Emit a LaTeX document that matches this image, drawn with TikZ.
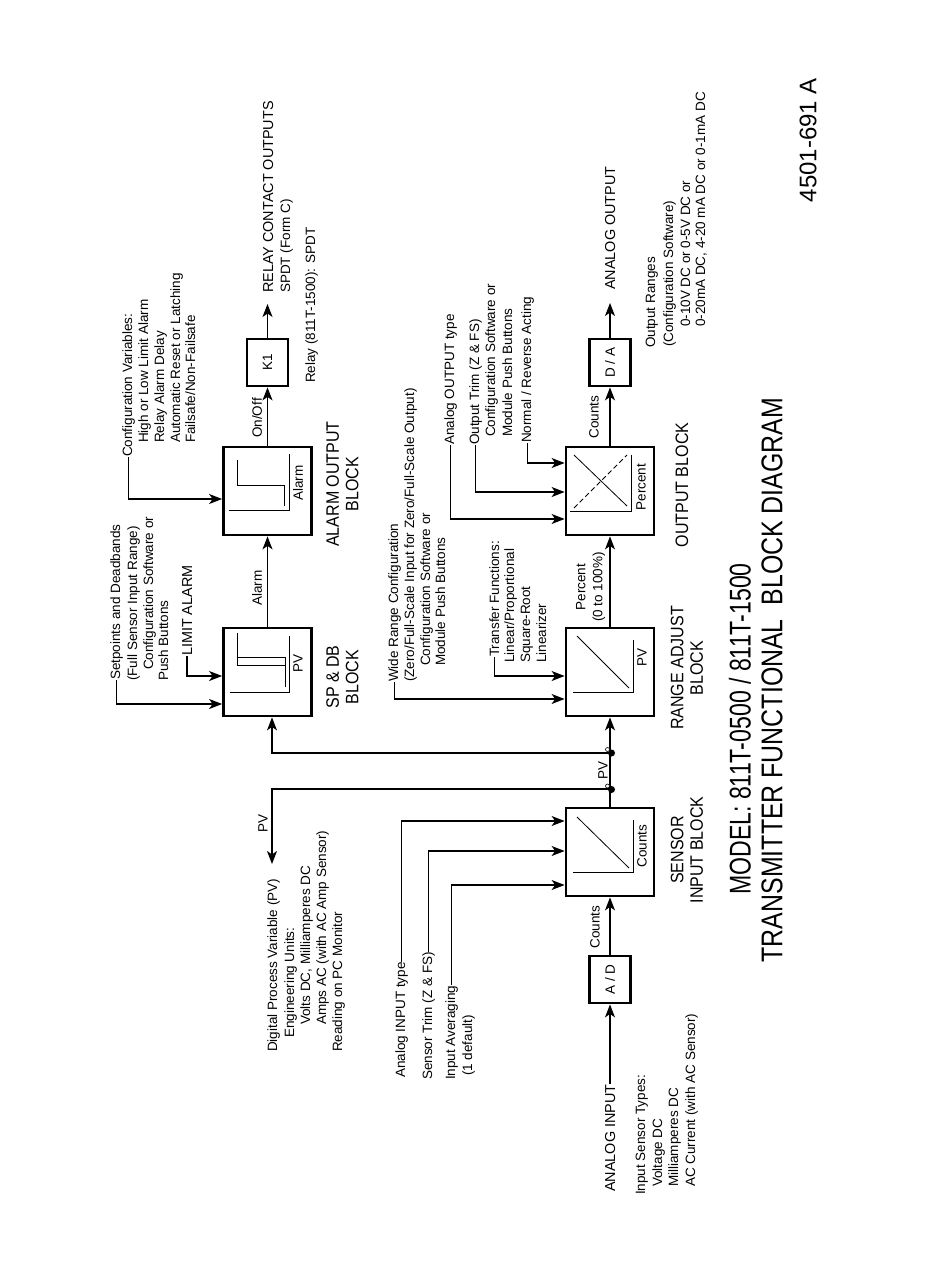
\documentclass[tikz,border=0pt]{standalone}
\usepackage{fontspec}
\setmainfont{Liberation Sans}
\newfontfamily\blkfont[FakeStretch=0.89]{Liberation Sans}
\newfontfamily\ttlfonta[FakeStretch=0.77]{Liberation Sans}
\newfontfamily\ttlfontb[FakeStretch=0.83]{Liberation Sans}
\usetikzlibrary{arrows.meta,calc}
\newcommand\smallfs{\fontsize{13.5}{15.9}\selectfont}
\newcommand\capsfs{\fontsize{14.4}{16}\selectfont}
\begin{document}
\begin{tikzpicture}[x=1pt,y=-1pt,
  blk/.style={draw, line width=2.8pt, minimum width=88pt, minimum height=88pt, inner sep=0},
  sbox/.style={draw, line width=2.8pt, rotate=90, minimum width=47pt, minimum height=41pt, inner sep=0, font=\smallfs},
  arr/.style={line width=1.2pt, -{Stealth[length=13pt,width=10pt,inset=3.5pt]}},
  icon/.style={line width=0.8pt},
  t/.style={rotate=90, inner sep=0, font=\smallfs, anchor=base west},
  tc/.style={t, font=\capsfs},
  lbl/.style={rotate=90, inner sep=0, font=\smallfs, align=center},
  blab/.style={rotate=90, inner sep=0, font=\blkfont\fontsize{18}{19.5}\selectfont, align=center},
  dotf/.style={circle, fill, inner sep=0, minimum size=7pt},
  doto/.style={circle, draw, fill=white, line width=0.6pt, inner sep=0, minimum size=4pt},
]
\useasboundingbox (0,0) rectangle (950,1267);
\fill[white] (0,0) rectangle (950,1267);

% ---------------- blocks ----------------
\node[blk] (spdb)  at (267.5,672) {};
\node[blk] (alarm) at (267.5,491) {};
\node[blk] (range) at (610,672) {};
\node[blk] (outb)  at (610,491) {};
\node[blk] (sens)  at (610,852) {};
\node[sbox] (k1) at (267.5,362.5) {K1};
\node[sbox] (da) at (610,362.5) {D / A};
\node[sbox] (ad) at (610,979.5) {A / D};

% ---------------- icons ----------------
\begin{scope}[shift={(spdb.center)}]
  \draw[icon] (-38,20) -- (22,20) -- (22,-36);
  \draw[icon] (-30,-39) -- (-30,-7) -- (18,-7);
  \draw[icon] (-30,-15) -- (18,-15) -- (18,15);
  \node[lbl] (spdbpv) at (30.5,-9) {PV};
\end{scope}
\begin{scope}[shift={(alarm.center)}]
  \draw[icon] (-39,19) -- (22,19) -- (22,-37);
  \draw[icon] (-30,-31) -- (-30,-6) -- (17,-6) -- (17,15);
  \node[lbl] (alarmlab) at (30.5,-8) {Alarm};
\end{scope}
\begin{scope}[shift={(range.center)}]
  \draw[icon] (-37,20) -- (23,20) -- (23,-32);
  \draw[icon] (-33,-36) -- (19,16);
  \node[lbl] (rangepv) at (32,-15) {PV};
\end{scope}
\begin{scope}[shift={(sens.center)}]
  \draw[icon] (-37,20) -- (23,20) -- (23,-32);
  \draw[icon] (-33,-35) -- (19,16);
  \node[lbl] (senslab) at (32,-6) {Counts};
\end{scope}
\begin{scope}[shift={(outb.center)}]
  \draw[icon] (-40,20) -- (21,20) -- (21,-36);
  \draw[icon] (-36,-36) -- (17,15);
  \draw[icon, dash pattern=on 5pt off 3pt] (-36,17) -- (17,-36);
  \node[lbl] (outlab) at (31,-4) {Percent};
\end{scope}

% ---------------- block labels ----------------
\node[blab] (spdbl)  at (342.5,677) {SP \& DB\\BLOCK};
\node[blab] (alarml) at (342.5,484) {ALARM OUTPUT\\BLOCK};
\node[blab] (rangel) at (687,668) {RANGE ADJUST\\BLOCK};
\node[blab] (outl)   at (682,485) {OUTPUT BLOCK};
\node[blab] (sensl)  at (687,850) {SENSOR\\INPUT BLOCK};

% ---------------- titles ----------------
\node[rotate=90, inner sep=0, font=\ttlfonta\fontsize{30}{32}\selectfont] (title1) at (740,729) {MODEL: 811T-0500 / 811T-1500};
\node[rotate=90, inner sep=0, font=\ttlfontb\fontsize{30}{32}\selectfont] (title2) at (772,680) {TRANSMITTER FUNCTIONAL\ \ BLOCK DIAGRAM};
\node[rotate=90, inner sep=0, font=\fontsize{24}{26}\selectfont] (docno) at (808,140) {4501-691 A};

% ---------------- texts (xc+5 = baseline) ----------------
\node[tc] (r1) at (273,293) {RELAY CONTACT OUTPUTS};
\node[t] (r2) at (290,293) {SPDT (Form C)};
\node[t] (r3) at (315,383) {Relay (811T-1500): SPDT};

\node[t] (c1) at (132,457) {Configuration Variables:};
\node[t] (c2) at (148,443) {High or Low Limit Alarm};
\node[t] (c3) at (164,443) {Relay Alarm Delay};
\node[t] (c4) at (180,443) {Automatic Reset or Latching};
\node[t] (c5) at (195,443) {Failsafe/Non-Failsafe};

\node[t] (s1) at (120,680) {Setpoints and Deadbands};
\node[t] (s2) at (137,681) {(Full Sensor Input Range)};
\node[t] (s3) at (153,670) {Configuration Software or};
\node[t] (s4) at (168,681) {Push Buttons};
\node[tc] (l1) at (192,656) {LIMIT ALARM};

\node[t] (d1) at (277,1052) {Digital Process Variable (PV)};
\node[t] (d2) at (294,1038) {Engineering Units:};
\node[t] (d3) at (310,1025) {Volts DC, Milliamperes DC};
\node[t] (d4) at (326,1025) {Amps AC (with AC Amp Sensor)};
\node[t] (d5) at (342,1052) {Reading on PC Monitor};

\node[t] (a1) at (405,1078) {Analog INPUT type};
\node[t] (a2) at (432,1080) {Sensor Trim (Z \& FS)};
\node[t] (a3) at (455,1080) {Input Averaging};
\node[t] (a4) at (472,1076) {(1 default)};

\node[tc] (ai) at (615,1192) {ANALOG INPUT};
\node[t] (i1) at (645,1195) {Input Sensor Types:};
\node[t] (i2) at (662,1187) {Voltage DC};
\node[t] (i3) at (678,1187) {Milliamperes DC};
\node[t] (i4) at (695,1187) {AC Current (with AC Sensor)};

\node[t] (w1) at (398,682) {Wide Range Configuration};
\node[t] (w2) at (414,682) {(Zero/Full-Scale Input for Zero/Full-Scale Output)};
\node[t] (w3) at (430,666) {Configuration Software or};
\node[t] (w4) at (445,666) {Module Push Buttons};
\node[t] (t1) at (499,657) {Transfer Functions:};
\node[t] (t2) at (514,663) {Linear/Proportional};
\node[t] (t3) at (530,663) {Square-Root};
\node[t] (t4) at (546,663) {Linearizer};

\node[t] (o1) at (454,445) {Analog OUTPUT type};
\node[t] (o2) at (479,445) {Output Trim (Z \& FS)};
\node[t] (o3) at (495,437) {Configuration Software or};
\node[t] (o4) at (512,437) {Module Push Buttons};
\node[t] (n1) at (531,443) {Normal / Reverse Acting};

\node[tc] (ao) at (615,290) {ANALOG OUTPUT};
\node[t] (g1) at (655,348) {Output Ranges};
\node[t] (g2) at (673,347) {(Configuration Software)};
\node[t] (g3) at (690,327) {0-10V DC or 0-5V DC or};
\node[t] (g4) at (705,327) {0-20mA DC, 4-20 mA DC or 0-1mA DC};

% connector labels
\node[lbl] (cnt1) at (595,927) {Counts};
\node[lbl] (pvl)  at (263,823) {PV};
\node[lbl] (pvb)  at (603,770) {PV};
\node[lbl, font=\fontsize{13.5}{17}\selectfont] (pct) at (590.5,587) {Percent\\(0 to 100\%)};
\node[lbl] (cnt2) at (594,417) {Counts};
\node[lbl] (alm)  at (257,588) {Alarm};
\node[lbl] (onoff) at (257,418) {On/Off};

% ---------------- connectors ----------------
\draw[arr] (ad.west |- ai.east) -- (ad.west);
\draw[arr] (ad.east) -- (sens.south);
\draw[arr] (sens.north) -- (range.south);
\draw[arr] (range.north) -- (outb.south);
\draw[arr] (outb.north) -- (da.west);
\draw[arr] (da.east) -- ($(da.east |- ao.west)+(0,13)$);
\draw[arr] (spdb.north) -- (alarm.south);
\draw[arr] (alarm.north) -- (k1.west);
\draw[arr] (k1.east) -- ($(k1.east |- r1.west)+(0,11)$);

\coordinate (j1) at (610,753);
\coordinate (j2) at (610,789);
\coordinate (pvtip) at (272,864);
\draw[arr] (j1) -| ($(spdb.south)+(4.5,0)$);
\draw[arr] (j2) -| (pvtip);
\node[dotf] (dot1) at (611.5,753) {};
\node[dotf] (dot2) at (611.5,789.5) {};
\node[doto] (oc1) at (607.5,749.5) {};
\node[doto] (oc2) at (607.5,786) {};

% input hooks
\draw[arr] (c1.west) |- ($(alarm.west)+(0,8)$);
\draw[arr] (s1.west) |- ($(spdb.west)+(0,32)$);
\draw[arr] (l1.west) |- ($(spdb.west)+(0,4)$);
\draw[arr] (w1.west) |- ($(range.west)+(0,27)$);
\draw[arr] (t1.west) |- ($(range.west)+(0,4)$);
\draw[arr] (o1.west) |- ($(outb.west)+(0,28)$);
\draw[arr] (o2.west) |- ($(outb.west)+(0,1)$);
\draw[arr] (n1.west) |- ($(outb.west)+(0,-28)$);
\draw[arr] (a1.east) |- ($(sens.west)+(0,-31)$);
\draw[arr] (a2.east) |- ($(sens.west)+(0,-1)$);
\draw[arr] (a3.east) |- ($(sens.west)+(0,33)$);
\end{tikzpicture}
\end{document}
